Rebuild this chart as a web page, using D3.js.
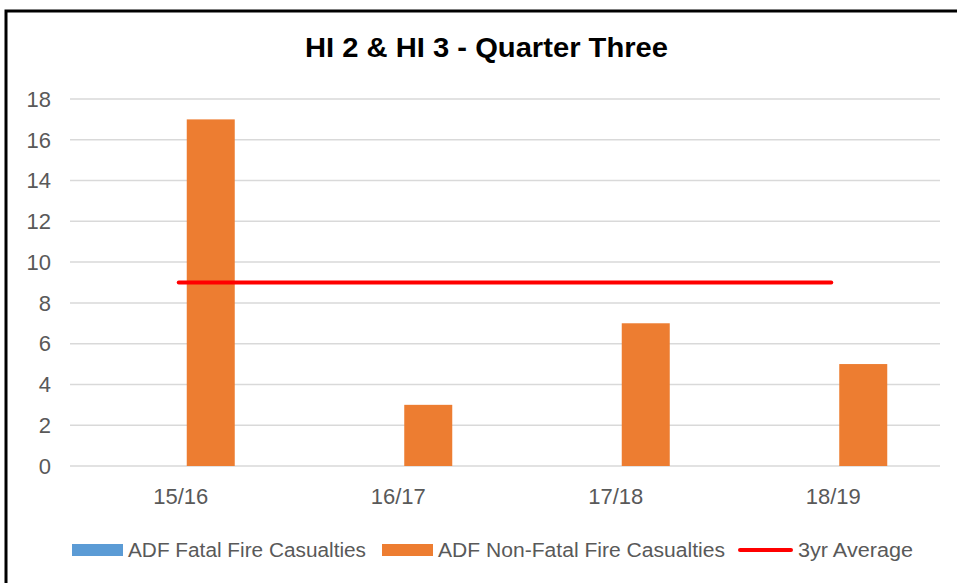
<!DOCTYPE html>
<html><head><meta charset="utf-8">
<script src="https://cdn.jsdelivr.net/npm/d3@7"></script>
<style>body{margin:0;background:#fff}svg{display:block}</style>
</head><body>
<script>
const categories = ["15/16", "16/17", "17/18", "18/19"];
const fatal = [0, 0, 0, 0];
const nonFatal = [17, 3, 7, 5];
const avg3yr = [9, 9, 9, 9];
const yTicks = [0, 2, 4, 6, 8, 10, 12, 14, 16, 18];
const seriesNames = ["ADF Fatal Fire Casualties", "ADF Non-Fatal Fire Casualties", "3yr Average"];
const title = "HI 2 & HI 3 - Quarter Three";

const W = 957, H = 583;
const svg = d3.select("body").append("svg").attr("width", W).attr("height", H);
svg.append("rect").attr("width", W).attr("height", H).attr("fill", "#fff");

// chart border (left + top visible)
svg.append("path").attr("d", `M6,${H+5} L6,11 L${W+5},11`).attr("fill", "none").attr("stroke", "#000").attr("stroke-width", 3);

const plot = {left: 70, right: 940, top: 99, bottom: 466};
const x = d3.scaleBand().domain(categories).range([plot.left, plot.right]);
const y = d3.scaleLinear().domain([0, 18]).range([plot.bottom, plot.top]);
const textColor = "#595959";
const font = "'Liberation Sans', Arial, sans-serif";

// title
svg.append("text").attr("x", 486.5).attr("y", 57).attr("text-anchor", "middle")
  .attr("font-family", font).attr("font-weight", "bold").attr("font-size", 27)
  .attr("fill", "#000").attr("textLength", 363).attr("lengthAdjust", "spacingAndGlyphs").text(title);

// gridlines
svg.append("g").selectAll("line").data(yTicks).join("line")
  .attr("x1", plot.left).attr("x2", plot.right)
  .attr("y1", d => y(d)).attr("y2", d => y(d))
  .attr("stroke", "#d9d9d9").attr("stroke-width", 1.5);

// y axis labels
const yAxis = d3.axisLeft(y).tickValues(yTicks).tickSize(0).tickPadding(0);
const gy = svg.append("g").attr("transform", `translate(51,0)`).call(yAxis);
gy.select(".domain").remove();
gy.selectAll("text").attr("font-family", font).attr("font-size", 22).attr("fill", textColor).attr("dy", "0.33em");

// x axis labels
const xAxis = d3.axisBottom(x).tickSize(0).tickPadding(0);
const gx = svg.append("g").attr("transform", `translate(2,488)`).call(xAxis);
gx.select(".domain").remove();
gx.selectAll("text").attr("font-family", font).attr("font-size", 22).attr("fill", textColor).attr("dy", "0.72em");

// bars
const barW = 48, offset = 8;
svg.append("g").selectAll("rect").data(fatal).join("rect")
  .attr("x", (d, i) => x(categories[i]) + x.bandwidth() / 2 - offset - barW)
  .attr("y", d => y(d)).attr("width", barW).attr("height", d => y(0) - y(d))
  .attr("fill", "#5b9bd5");
svg.append("g").selectAll("rect").data(nonFatal).join("rect")
  .attr("x", (d, i) => x(categories[i]) + x.bandwidth() / 2 + offset)
  .attr("y", d => y(d)).attr("width", barW).attr("height", d => y(0) - y(d))
  .attr("fill", "#ed7d31");

// average line
const line = d3.line().x((d, i) => x(categories[i]) + x.bandwidth() / 2).y(d => y(d));
svg.append("path").datum(avg3yr).attr("d", line).attr("fill", "none")
  .attr("stroke", "#ff0000").attr("stroke-width", 4).attr("stroke-linecap", "round");

// legend
const lg = svg.append("g");
const legendY = 550;
lg.append("rect").attr("x", 72).attr("y", legendY - 6).attr("width", 51).attr("height", 12).attr("fill", "#5b9bd5");
lg.append("text").attr("x", 128).attr("y", legendY + 7).attr("font-family", font).attr("font-size", 20)
  .attr("fill", textColor).attr("textLength", 238).attr("lengthAdjust", "spacingAndGlyphs").text(seriesNames[0]);
lg.append("rect").attr("x", 382).attr("y", legendY - 6).attr("width", 51).attr("height", 12).attr("fill", "#ed7d31");
lg.append("text").attr("x", 438).attr("y", legendY + 7).attr("font-family", font).attr("font-size", 20)
  .attr("fill", textColor).attr("textLength", 287).attr("lengthAdjust", "spacingAndGlyphs").text(seriesNames[1]);
lg.append("line").attr("x1", 740).attr("x2", 791).attr("y1", legendY).attr("y2", legendY)
  .attr("stroke", "#ff0000").attr("stroke-width", 4).attr("stroke-linecap", "round");
lg.append("text").attr("x", 798).attr("y", legendY + 7).attr("font-family", font).attr("font-size", 20)
  .attr("fill", textColor).attr("textLength", 115).attr("lengthAdjust", "spacingAndGlyphs").text(seriesNames[2]);
</script>
</body></html>
